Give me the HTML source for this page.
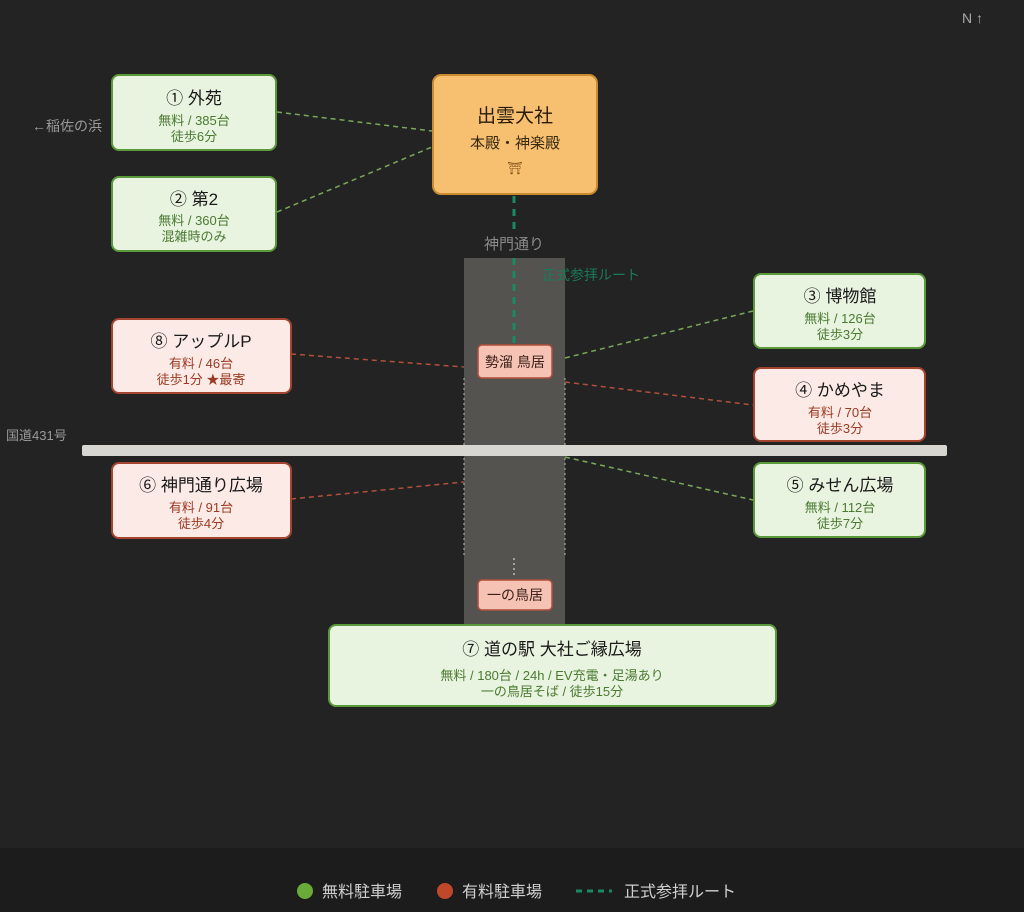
<!DOCTYPE html>
<html><head><meta charset="utf-8"><style>
html,body{margin:0;padding:0;background:#232323;}
svg{display:block;font-family:"Liberation Sans","Noto Sans CJK JP",sans-serif;}
</style></head><body>
<svg width="1024" height="912" viewBox="0 0 1024 912">
<rect width="1024" height="912" fill="#232323"/>
<rect y="848" width="1024" height="64" fill="#1c1c1c"/>
<text x="962" y="23" fill="#aaa" font-size="14">N ↑</text>
<text x="32" y="131" fill="#9a9a9a" font-size="14">←稲佐の浜</text>
<text x="6" y="440" fill="#9a9a9a" font-size="13">国道431号</text>
<rect x="464" y="258" width="101" height="366" fill="#555350"/>
<line x1="464" y1="378" x2="464" y2="555" stroke="#bbb" stroke-width="1" stroke-dasharray="2,3"/>
<line x1="565" y1="378" x2="565" y2="555" stroke="#bbb" stroke-width="1" stroke-dasharray="2,3"/>
<line x1="514" y1="558" x2="514" y2="578" stroke="#bbb" stroke-width="1.5" stroke-dasharray="2,3"/>
<rect x="82" y="445" width="865" height="11" rx="2" fill="#d8d6d0"/>
<line x1="514" y1="196" x2="514" y2="230" stroke="#1a8a62" stroke-width="3" stroke-dasharray="7,6"/>
<line x1="514" y1="258" x2="514" y2="343" stroke="#1a8a62" stroke-width="3" stroke-dasharray="7,6"/>
<text x="514" y="249" fill="#8a8a8a" font-size="15" text-anchor="middle">神門通り</text>
<text x="542" y="280" fill="#1a7a5a" font-size="14">正式参拝ルート</text>
<g stroke-width="1.5" stroke-dasharray="5,4" fill="none">
<line x1="277" y1="112" x2="432" y2="131" stroke="#7aa85a"/>
<line x1="277" y1="212" x2="432" y2="147" stroke="#7aa85a"/>
<line x1="565" y1="358" x2="753" y2="311" stroke="#7aa85a"/>
<line x1="565" y1="457" x2="753" y2="500" stroke="#7aa85a"/>
<line x1="291" y1="354" x2="464" y2="367" stroke="#b0503a"/>
<line x1="291" y1="499" x2="464" y2="482" stroke="#b0503a"/>
<line x1="565" y1="382" x2="753" y2="405" stroke="#b0503a"/>
</g>
<rect x="433" y="75" width="164" height="119" rx="8" fill="#f7c070" stroke="#c98a30" stroke-width="2"/>
<text x="515" y="122" font-size="19" text-anchor="middle" fill="#2a1a08">出雲大社</text>
<text x="515" y="148" font-size="15" text-anchor="middle" fill="#3a2a10">本殿・神楽殿</text>
<text x="515" y="172" font-size="12" text-anchor="middle" fill="#7a4a10">⛩</text>
<g fill="#e8f3e0" stroke="#5a9a3a" stroke-width="2">
<rect x="112" y="75" width="164" height="75" rx="7"/>
<rect x="112" y="177" width="164" height="74" rx="7"/>
<rect x="754" y="274" width="171" height="74" rx="7"/>
<rect x="754" y="463" width="171" height="74" rx="7"/>
<rect x="329" y="625" width="447" height="81" rx="7"/>
</g>
<g fill="#fbeae6" stroke="#a5442e" stroke-width="2">
<rect x="112" y="319" width="179" height="74" rx="7"/>
<rect x="112" y="463" width="179" height="75" rx="7"/>
<rect x="754" y="368" width="171" height="73" rx="7"/>
</g>
<g fill="#f6c2b4" stroke="#b0503a" stroke-width="1.5">
<rect x="478" y="345" width="74" height="33" rx="4"/>
<rect x="478" y="580" width="74" height="30" rx="4"/>
</g>
<g font-size="14" text-anchor="middle" fill="#3a2018">
<text x="515" y="367">勢溜 鳥居</text>
<text x="515" y="600">一の鳥居</text>
</g>
<g text-anchor="middle">
<g font-size="17" fill="#1a1a1a">
<text x="194" y="104">① 外苑</text>
<text x="194" y="205">② 第2</text>
<text x="840" y="302">③ 博物館</text>
<text x="840" y="396">④ かめやま</text>
<text x="840" y="491">⑤ みせん広場</text>
<text x="201" y="347">⑧ アップルP</text>
<text x="201" y="491">⑥ 神門通り広場</text>
<text x="552" y="655">⑦ 道の駅 大社ご縁広場</text>
</g>
<g font-size="13" fill="#4a7a30">
<text x="194" y="125">無料 / 385台</text><text x="194" y="141">徒歩6分</text>
<text x="194" y="225">無料 / 360台</text><text x="194" y="241">混雑時のみ</text>
<text x="840" y="323">無料 / 126台</text><text x="840" y="339">徒歩3分</text>
<text x="840" y="512">無料 / 112台</text><text x="840" y="528">徒歩7分</text>
<text x="552" y="680">無料 / 180台 / 24h / EV充電・足湯あり</text>
<text x="552" y="696">一の鳥居そば / 徒歩15分</text>
</g>
<g font-size="13" fill="#9a3a22">
<text x="201" y="368">有料 / 46台</text><text x="201" y="384">徒歩1分 ★最寄</text>
<text x="201" y="512">有料 / 91台</text><text x="201" y="528">徒歩4分</text>
<text x="840" y="417">有料 / 70台</text><text x="840" y="433">徒歩3分</text>
</g>
</g>
<circle cx="305" cy="891" r="8" fill="#6aaa38"/>
<text x="322" y="897" font-size="16" fill="#d0d0d0">無料駐車場</text>
<circle cx="445" cy="891" r="8" fill="#c0482a"/>
<text x="462" y="897" font-size="16" fill="#d0d0d0">有料駐車場</text>
<line x1="576" y1="891" x2="612" y2="891" stroke="#1a8a62" stroke-width="3" stroke-dasharray="6,5"/>
<text x="624" y="897" font-size="16" fill="#d0d0d0">正式参拝ルート</text>
</svg>
</body></html>
